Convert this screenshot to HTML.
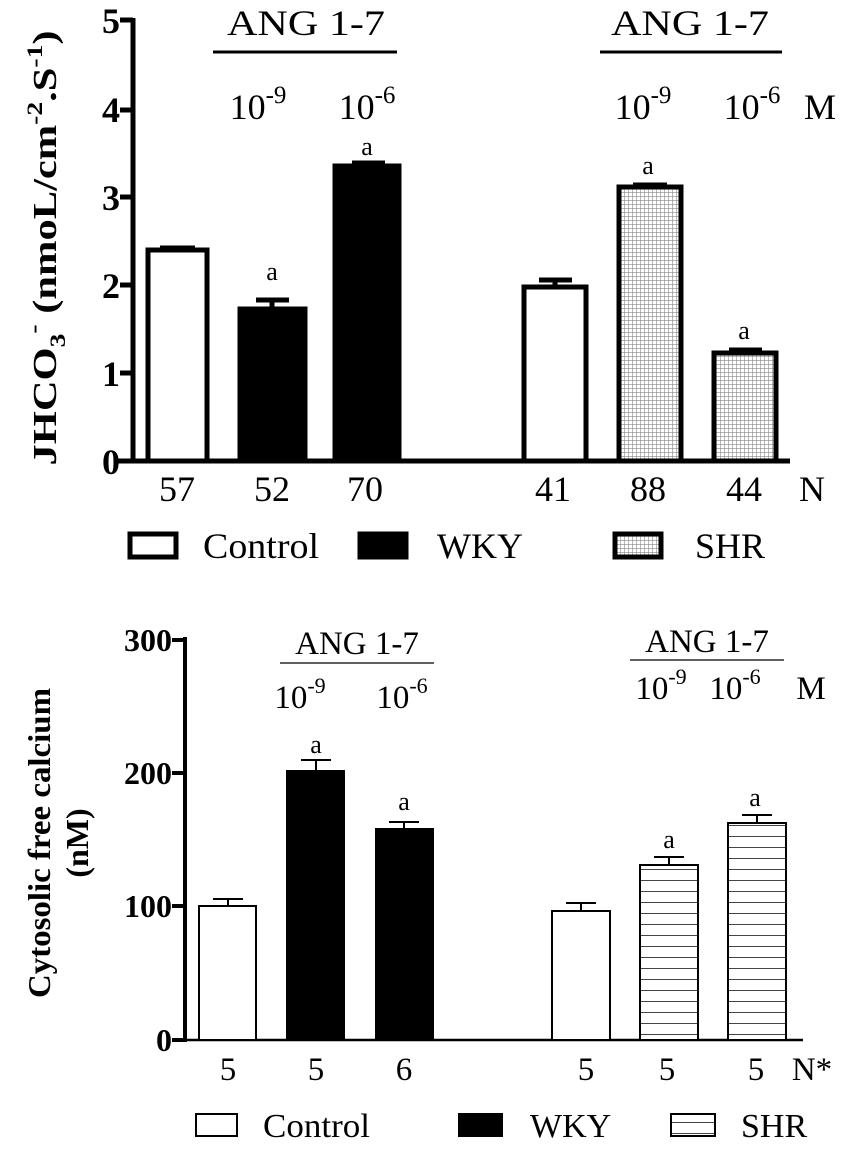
<!DOCTYPE html>
<html><head><meta charset="utf-8"><style>body{margin:0;background:#fff}svg{display:block}</style></head><body>
<svg width="862" height="1172" viewBox="0 0 862 1172" xmlns="http://www.w3.org/2000/svg" font-family="Liberation Serif, serif">
<defs>
<pattern id="grid" width="4" height="4" patternUnits="userSpaceOnUse"><rect width="4" height="4" fill="#fff"/><path d="M0 0H4M0 0V4" stroke="#888" stroke-width="1.2"/></pattern>
<pattern id="hl" width="10" height="11" patternUnits="userSpaceOnUse"><rect width="10" height="11" fill="#fff"/><path d="M0 0.5H10" stroke="#444" stroke-width="1"/></pattern>
</defs>
<!-- TOP CHART -->
<g font-weight="bold" font-size="36" text-anchor="end">
<text x="120" y="33">5</text><text x="120" y="122">4</text><text x="120" y="210">3</text><text x="120" y="298">2</text><text x="120" y="386">1</text><text x="120" y="474">0</text>
</g>
<g stroke="#000" stroke-width="5">
<line x1="133" y1="18" x2="133" y2="463"/><line x1="118" y1="461" x2="790" y2="461"/>
<line x1="120" y1="20" x2="133" y2="20"/><line x1="120" y1="110" x2="133" y2="110"/><line x1="120" y1="197" x2="133" y2="197"/><line x1="120" y1="285" x2="133" y2="285"/><line x1="120" y1="373" x2="133" y2="373"/>
</g>
<text transform="translate(56,248) rotate(-90)" text-anchor="middle" font-weight="bold" font-size="34" textLength="435" lengthAdjust="spacingAndGlyphs">JHCO<tspan font-size="22" dy="9">3</tspan><tspan font-size="22" dy="-24">-</tspan><tspan dy="15"> (nmoL/cm</tspan><tspan font-size="22" dy="-14">-2</tspan><tspan dy="14">.S</tspan><tspan font-size="22" dy="-14">-1</tspan><tspan dy="14">)</tspan></text>
<g stroke="#000" stroke-width="5">
<rect x="148" y="250" width="59" height="211" fill="#fff"/>
<line x1="160" y1="248" x2="195" y2="248"/>
<rect x="240" y="309" width="65" height="152" fill="#000"/>
<line x1="272" y1="307" x2="272" y2="300"/><line x1="256" y1="300" x2="289" y2="300"/>
<rect x="335" y="166" width="64" height="295" fill="#000"/>
<line x1="352" y1="163" x2="385" y2="163"/>
<rect x="524" y="287" width="62" height="174" fill="#fff"/>
<line x1="555" y1="285" x2="555" y2="280"/><line x1="539" y1="280" x2="572" y2="280"/>
<rect x="619" y="187" width="62" height="274" fill="url(#grid)"/>
<line x1="633" y1="185" x2="667" y2="185"/>
<rect x="714" y="353" width="62" height="108" fill="url(#grid)"/>
<line x1="729" y1="350" x2="762" y2="350"/>
</g>
<g font-size="26" text-anchor="middle"><text x="272" y="280">a</text><text x="367" y="155">a</text><text x="648" y="174">a</text><text x="744" y="339">a</text></g>
<g font-size="36" text-anchor="middle">
<text x="306" y="35" textLength="158" lengthAdjust="spacingAndGlyphs">ANG 1-7</text><text x="690" y="35" textLength="158" lengthAdjust="spacingAndGlyphs">ANG 1-7</text>
<text x="258" y="119">10<tspan font-size="25" dy="-16">-9</tspan></text>
<text x="367" y="119">10<tspan font-size="25" dy="-16">-6</tspan></text>
<text x="643" y="119">10<tspan font-size="25" dy="-16">-9</tspan></text>
<text x="752" y="119">10<tspan font-size="25" dy="-16">-6</tspan></text>
<text x="820" y="119">M</text>
<text x="177" y="501">57</text><text x="272" y="501">52</text><text x="365" y="501">70</text><text x="553" y="501">41</text><text x="648" y="501">88</text><text x="744" y="501">44</text><text x="812" y="501">N</text>
</g>
<g stroke="#000" stroke-width="3"><line x1="213" y1="52" x2="397" y2="52"/><line x1="600" y1="52" x2="782" y2="52"/></g>
<g stroke="#000" stroke-width="5">
<rect x="130" y="534" width="46" height="23" fill="#fff"/>
<rect x="360" y="534" width="46" height="23" fill="#000"/>
<rect x="615" y="534" width="46" height="23" fill="url(#grid)"/>
</g>
<g font-size="36"><text x="203" y="558" textLength="116" lengthAdjust="spacingAndGlyphs">Control</text><text x="437" y="558">WKY</text><text x="695" y="558">SHR</text></g>

<!-- BOTTOM CHART -->
<g font-weight="bold" font-size="32" text-anchor="end">
<text x="172" y="651">300</text><text x="172" y="784">200</text><text x="172" y="917">100</text><text x="172" y="1051">0</text>
</g>
<g stroke="#000" stroke-width="4">
<line x1="185" y1="637" x2="185" y2="1042"/>
<line x1="172" y1="640" x2="185" y2="640"/><line x1="172" y1="773" x2="185" y2="773"/><line x1="172" y1="906" x2="185" y2="906"/><line x1="172" y1="1040" x2="185" y2="1040"/>
</g>
<line x1="172" y1="1040" x2="803" y2="1040" stroke="#000" stroke-width="2.5"/>
<g text-anchor="middle" font-weight="bold" font-size="32">
<text transform="translate(50,843) rotate(-90)" textLength="310" lengthAdjust="spacingAndGlyphs">Cytosolic free calcium</text>
<text transform="translate(88,843) rotate(-90)">(nM)</text>
</g>
<g stroke="#000" stroke-width="2">
<rect x="199" y="906" width="57" height="134" fill="#fff"/>
<line x1="228" y1="906" x2="228" y2="899"/><line x1="213" y1="899" x2="243" y2="899"/>
<rect x="287" y="771" width="57" height="269" fill="#000"/>
<line x1="316" y1="771" x2="316" y2="760"/><line x1="301" y1="760" x2="331" y2="760"/>
<rect x="376" y="829" width="57" height="211" fill="#000"/>
<line x1="404" y1="829" x2="404" y2="822"/><line x1="389" y1="822" x2="419" y2="822"/>
<rect x="552" y="911" width="58" height="129" fill="#fff"/>
<line x1="581" y1="911" x2="581" y2="903"/><line x1="566" y1="903" x2="596" y2="903"/>
<rect x="640" y="865" width="58" height="175" fill="url(#hl)"/>
<line x1="669" y1="865" x2="669" y2="857"/><line x1="654" y1="857" x2="684" y2="857"/>
<rect x="728" y="823" width="58" height="217" fill="url(#hl)"/>
<line x1="757" y1="823" x2="757" y2="815"/><line x1="742" y1="815" x2="772" y2="815"/>
</g>
<g font-size="26" text-anchor="middle"><text x="316" y="753">a</text><text x="404" y="810">a</text><text x="669" y="848">a</text><text x="755" y="806">a</text></g>
<g font-size="33" text-anchor="middle">
<text x="357" y="654">ANG 1-7</text><text x="707" y="652">ANG 1-7</text>
<text x="300" y="708">10<tspan font-size="22" dy="-15">-9</tspan></text>
<text x="402" y="708">10<tspan font-size="22" dy="-15">-6</tspan></text>
<text x="661" y="699">10<tspan font-size="22" dy="-15">-9</tspan></text>
<text x="735" y="699">10<tspan font-size="22" dy="-15">-6</tspan></text>
<text x="811" y="699">M</text>
<text x="228" y="1080">5</text><text x="316" y="1080">5</text><text x="404" y="1080">6</text><text x="586" y="1080">5</text><text x="667" y="1080">5</text><text x="756" y="1080">5</text><text x="812" y="1080">N*</text>
</g>
<g stroke="#000" stroke-width="1.3"><line x1="280" y1="663" x2="434" y2="663"/><line x1="630" y1="660" x2="784" y2="660"/></g>
<g stroke="#000" stroke-width="2">
<rect x="196" y="1114" width="41" height="22" fill="#fff"/>
<rect x="459" y="1114" width="43" height="22" fill="#000"/>
<rect x="671" y="1114" width="44" height="22" fill="url(#hl)"/>
</g>
<g font-size="34"><text x="263" y="1137" textLength="107" lengthAdjust="spacingAndGlyphs">Control</text><text x="530" y="1137">WKY</text><text x="741" y="1137">SHR</text></g>
</svg>
</body></html>
